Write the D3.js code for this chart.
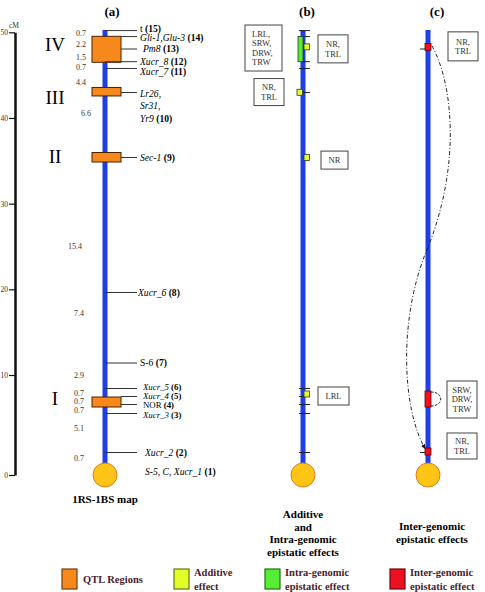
<!DOCTYPE html>
<html><head><meta charset="utf-8">
<script src="https://cdn.jsdelivr.net/npm/d3@7"></script>
<style>
html,body{margin:0;padding:0;background:#fff;}
svg text{font-family:"Liberation Serif","DejaVu Serif",serif;}
</style></head>
<body><svg id="c" width="485" height="592"></svg>
<script>
// ---------- DATA ----------
const axisTicks = [0, 10, 20, 30, 40, 50];
const markerNames = ["t", "Gli-1,Glu-3", "Pm8", "Xucr_8", "Xucr_7", "Lr26,|Sr31,|Yr9", "Sec-1", "Xucr_6", "S-6", "Xucr_5", "Xucr_4", "NOR", "Xucr_3", "Xucr_2", "S-5, C, Xucr_1"];
const markerIds = [15, 14, 13, 12, 11, 10, 9, 8, 7, 6, 5, 4, 3, 2, 1];
const markerItalic = [false, true, true, true, true, true, true, true, false, true, true, false, true, true, true];
const markerPos = [50.2, 49.5, 48.05, 46.57, 45.78, 42.97, 35.39, 19.63, 11.4, 8.65, 7.85, 7.05, 6.15, 2.25, 0];
const distLabels = ["0.7", "2.2", "1.5", "0.7", "4.4", "6.6", "15.4", "7.4", "2.9", "0.7", "0.7", "0.7", "5.1", "0.7"];
const distPos = [49.9, 48.6, 47.1, 45.9, 44.2, 40.5, 25.05, 17.2, 10.0, 8.2, 7.4, 6.5, 4.7, 1.7];
const qtlNames = ["IV", "III", "II", "I"];
const qtlStart = [46.5, 42.57, 34.86, 6.8];
const qtlEnd = [49.53, 43.56, 35.97, 7.8];
const qtlLabelPos = [48.6, 42.4, 35.5, 7.7];
const additivePos = [48.3, 43.0, 35.4, 8.1];
const additiveSide = ["right", "left", "right", "right"];
const intraStart = [46.57];
const intraEnd = [49.5];
const interStart = [47.9, 6.8, 2.0];
const interEnd = [48.7, 8.4, 2.7];
const bTickMarkers = ["t", "Gli-1,Glu-3", "Xucr_8", "Xucr_7", "Lr26,|Sr31,|Yr9", "Sec-1", "Xucr_5", "Xucr_4", "NOR", "Xucr_3", "Xucr_2"];
const cTickMarkers = ["Pm8", "Xucr_2"];
const traitsB = ["LRL,|SRW,|DRW,|TRW", "NR,|TRL", "NR,|TRL", "NR", "LRL"];
const traitsBPos = [49.8, 48.3, 43.2, 35.2, 8.1];
const traitsC = ["NR,|TRL", "SRW,|DRW,|TRW", "NR,|TRL"];
const traitsCPos = [48.3, 7.6, 2.5];
const legendLabels = ["QTL Regions", "Additive|effect", "Intra-genomic|epistatic effect", "Inter-genomic|epistatic effect"];
const legendColors = ["#F7891C", "#E2FF2A", "#55EE36", "#EE1020"];

// ---------- LAYOUT ----------
const svg = d3.select("#c");
const y = d3.scaleLinear().domain([0, 10, 50]).range([475, 375, 32.3]);
const blue = "#1f3fe6";
const xa = 105, xb = 303, xc = 428;

// axis
const ax = svg.append("g").attr("transform", "translate(15,0)")
  .call(d3.axisLeft(y).tickValues(axisTicks).tickSize(6).tickSizeOuter(0).tickPadding(1));
ax.select(".domain").attr("stroke", "#111").attr("stroke-width", 2.5);
ax.selectAll(".tick line").attr("stroke", "#111").attr("stroke-width", 1.2);
ax.selectAll(".tick text").attr("font-size", 7.5).attr("fill", "#333")
  .attr("font-family", "Liberation Serif");
svg.append("text").attr("x", 14).attr("y", 28).attr("text-anchor", "middle")
  .attr("font-size", 7.5).attr("fill", "#333").text("cM");

// panel titles
[["(a)", 112], ["(b)", 307], ["(c)", 437]].forEach(d => {
  svg.append("text").attr("x", d[1]).attr("y", 16).attr("text-anchor", "middle")
    .attr("font-size", 13).attr("font-weight", "bold").text(d[0]);
});

function chromosome(x) {
  svg.append("rect").attr("x", x - 2.5).attr("y", 30).attr("width", 5)
    .attr("height", y(0) - 30).attr("fill", blue);
  svg.append("circle").attr("cx", x).attr("cy", y(0)).attr("r", 12)
    .attr("fill", "#FFC516").attr("stroke", "#E07B20").attr("stroke-width", 1);
}
chromosome(xa); chromosome(xb); chromosome(xc);

// ---- panel (a) ----
const qtlX0 = 92, qtlX1 = 121;
qtlNames.forEach((n, i) => {
  svg.append("rect").attr("x", qtlX0).attr("y", y(qtlEnd[i])).attr("width", qtlX1 - qtlX0)
    .attr("height", y(qtlStart[i]) - y(qtlEnd[i]))
    .attr("fill", "#F7891C").attr("stroke", "#4a2200").attr("stroke-width", 1);
  svg.append("text").attr("x", 55).attr("y", y(qtlLabelPos[i])).attr("dy", "0.35em")
    .attr("text-anchor", "middle").attr("font-size", 19).text(n);
});

function inQtl(p) {
  return qtlStart.some((s, i) => p >= s - 0.05 && p <= qtlEnd[i] + 0.05);
}
const labelDy = {"t": -2, "Gli-1,Glu-3": 1.5, "Xucr_7": 3.5, "Xucr_5": -1.2, "Xucr_4": -0.5, "NOR": 0.6, "Xucr_3": 1.6, "S-5, C, Xucr_1": -3};
const labelDx = {"Pm8": 3, "Xucr_5": 3, "Xucr_4": 3, "NOR": 3, "Xucr_3": 3, "Xucr_2": 5, "S-5, C, Xucr_1": 5, "Xucr_6": -2};
const smallLabels = ["Xucr_5", "Xucr_4", "NOR", "Xucr_3"];
markerNames.forEach((n, i) => {
  const py = y(markerPos[i]);
  if (markerPos[i] > 0) {
    const x0 = inQtl(markerPos[i]) && n !== "Xucr_8" ? qtlX1 : xa;
    svg.append("line").attr("x1", x0).attr("x2", 137).attr("y1", py).attr("y2", py)
      .attr("stroke", "#333").attr("stroke-width", 1);
  }
  const lines = n.split("|");
  const lx = 140 + (labelDx[n] || 0);
  const t = svg.append("text").attr("x", lx)
    .attr("y", py + (lines.length > 1 ? 1 : (labelDy[n] || 0)))
    .attr("font-size", smallLabels.includes(n) ? 8.8 : 9.6);
  lines.forEach((l, j) => {
    t.append("tspan").attr("x", lx).attr("dy", j === 0 ? "0.35em" : 12.5)
      .attr("font-style", markerItalic[i] ? "italic" : "normal").text(l);
    if (j === lines.length - 1) {
      t.append("tspan").attr("font-style", "normal").text(" ");
      t.append("tspan").attr("font-weight", "bold").attr("font-style", "normal").text("(" + markerIds[i] + ")");
    }
  });
});

const distX = {"6.6": 81, "15.4": 68};
distLabels.forEach((d, i) => {
  svg.append("text").attr("x", i < 6 ? (distX[d] || 76) : (distX[d] || 74))
    .attr("y", y(distPos[i])).attr("dy", "0.35em").attr("font-size", 8).attr("fill", "#333").text(d);
});

svg.append("text").attr("x", 105).attr("y", 503).attr("text-anchor", "middle")
  .attr("font-size", 11).attr("font-weight", "bold").text("1RS-1BS map");

// ---- panel (b) ----
const pos = n => markerPos[markerNames.indexOf(n)];
bTickMarkers.forEach(n => {
  const py = y(pos(n));
  const left = (n === "Gli-1,Glu-3" || n === "Xucr_8" || n === "Lr26,|Sr31,|Yr9" || n === "Sec-1") ? xb : xb - 4;
  svg.append("line").attr("x1", left).attr("x2", xb + 7).attr("y1", py).attr("y2", py)
    .attr("stroke", "#222").attr("stroke-width", 1);
});
intraStart.forEach((s, i) => {
  svg.append("rect").attr("x", xb - 5).attr("y", y(intraEnd[i])).attr("width", 5)
    .attr("height", y(s) - y(intraEnd[i])).attr("fill", "#55EE36").attr("stroke", "#333").attr("stroke-width", 0.8);
});
additivePos.forEach((p, i) => {
  const x0 = additiveSide[i] === "right" ? xb + 1 : xb - 6;
  svg.append("rect").attr("x", x0).attr("y", y(p) - 3).attr("width", 5.5).attr("height", 6)
    .attr("fill", "#E2FF2A").attr("stroke", "#333").attr("stroke-width", 0.8);
});

function traitBox(txt, x0, x1, yTop, yBot, anchor) {
  svg.append("rect").attr("x", x0).attr("y", yTop).attr("width", x1 - x0).attr("height", yBot - yTop)
    .attr("fill", "#fff").attr("stroke", "#444").attr("stroke-width", 1);
  const lines = txt.split("|");
  const lh = 9.6;
  const start = (yTop + yBot) / 2 - (lines.length - 1) * lh / 2;
  lines.forEach((l, j) => {
    svg.append("text").attr("x", anchor === "start" ? x0 + 7 : (x0 + x1) / 2)
      .attr("y", start + j * lh).attr("dy", "0.35em")
      .attr("text-anchor", anchor || "middle").attr("font-size", 8.5).attr("fill", "#333").text(l);
  });
}
const bBoxes = [[245, 282, -9, 37], [318, 348, -12, 16], [254, 284, -12, 15], [321, 348, -8, 10], [318, 349, -7, 11]];
traitsB.forEach((t, i) => {
  const c = y(traitsBPos[i]);
  const g = bBoxes[i];
  traitBox(t, g[0], g[1], c + g[2], c + g[3], i === 0 ? "start" : "middle");
});
["Additive", "and", "Intra-genomic", "epistatic effects"].forEach((t, j) => {
  svg.append("text").attr("x", 303).attr("y", 518 + j * 12.5).attr("text-anchor", "middle")
    .attr("font-size", 11).attr("font-weight", "bold").text(t);
});

// ---- panel (c) ----
cTickMarkers.forEach(n => {
  const py = y(pos(n));
  svg.append("line").attr("x1", xc - 8).attr("x2", xc).attr("y1", py).attr("y2", py)
    .attr("stroke", "#222").attr("stroke-width", 1);
});
interStart.forEach((s, i) => {
  svg.append("rect").attr("x", xc - 3).attr("y", y(interEnd[i])).attr("width", 6)
    .attr("height", y(s) - y(interEnd[i])).attr("fill", "#EE1020").attr("stroke", "#600").attr("stroke-width", 0.8);
});
svg.append("defs").append("marker").attr("id", "arr").attr("viewBox", "0 0 10 10")
  .attr("refX", 9).attr("refY", 5).attr("markerWidth", 5).attr("markerHeight", 5).attr("orient", "auto")
  .append("path").attr("d", "M0,0 L10,5 L0,10 z").attr("fill", "#111");
{
  const y1 = y((interStart[0] + interEnd[0]) / 2) - 1;
  const y2 = y((interStart[2] + interEnd[2]) / 2) - 3;
  const ym = (y1 + y2) / 2;
  const p = d3.path();
  p.moveTo(xc + 4, y1);
  p.bezierCurveTo(xc + 26, y1 + 40, xc + 32, ym - 80, xc, ym);
  p.bezierCurveTo(xc - 30, ym + 70, xc - 26, y2 - 40, xc - 3, y2);
  svg.append("path").attr("d", p.toString()).attr("fill", "none").attr("stroke", "#111")
    .attr("stroke-width", 0.9).attr("stroke-dasharray", "4,2,1,2").attr("marker-end", "url(#arr)");
  const ya = y(interEnd[1]) + 1, yb = y(interStart[1]) - 1;
  const q = d3.path();
  q.moveTo(xc + 3, ya);
  q.bezierCurveTo(xc + 16, ya, xc + 16, yb, xc + 3, yb);
  svg.append("path").attr("d", q.toString()).attr("fill", "none").attr("stroke", "#111")
    .attr("stroke-width", 0.9).attr("stroke-dasharray", "2.5,1.5");
}
const cBoxes = [[448, 478, -15, 14], [447, 477, -18, 19], [447, 477, -17, 9]];
traitsC.forEach((t, i) => {
  const c = y(traitsCPos[i]);
  const g = cBoxes[i];
  traitBox(t, g[0], g[1], c + g[2], c + g[3], "middle");
});
["Inter-genomic", "epistatic effects"].forEach((t, j) => {
  svg.append("text").attr("x", 432).attr("y", 530 + j * 12.5).attr("text-anchor", "middle")
    .attr("font-size", 11).attr("font-weight", "bold").text(t);
});

// ---- legend ----
const legX = [62, 174, 265, 390];
legendLabels.forEach((l, i) => {
  svg.append("rect").attr("x", legX[i]).attr("y", 569).attr("width", 15).attr("height", 20)
    .attr("fill", legendColors[i]).attr("stroke", d3.color(legendColors[i]).darker(2.2)).attr("stroke-width", 1.2);
  const lines = l.split("|");
  lines.forEach((s, j) => {
    svg.append("text").attr("x", legX[i] + (i === 0 ? 21 : 20))
      .attr("y", lines.length === 1 ? 582.5 : 576 + j * 13.5)
      .attr("font-size", 10.5).attr("font-weight", "bold").attr("fill", "#4a1b2c").text(s);
  });
});
</script></body></html>
